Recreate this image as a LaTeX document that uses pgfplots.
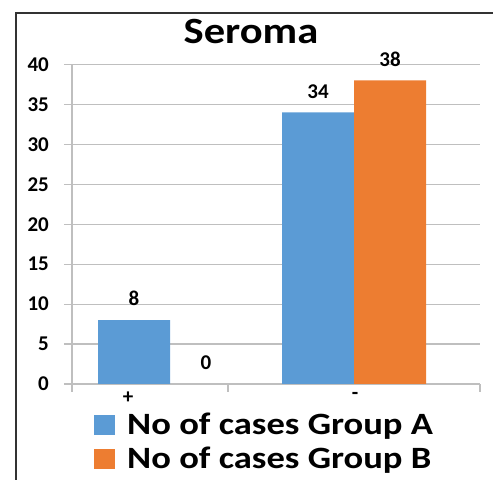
\documentclass[border=0pt]{standalone}
\usepackage{pgfplots}
\pgfplotsset{compat=1.18}
\usepackage{fontspec}
\setmainfont{Carlito}
\newfontfamily\widefont[FakeStretch=1.15]{Carlito}
\newfontfamily\legfont[FakeStretch=1.18]{Carlito}
\definecolor{cA}{HTML}{5B9BD5}
\definecolor{cB}{HTML}{ED7D31}
\definecolor{gridc}{HTML}{BFBFBF}
\begin{document}
\begin{tikzpicture}
\path[use as bounding box] (0,0) rectangle (493bp,480bp);
\draw[line width=1.5bp, black!80] (16bp,0) -- (16bp,467bp) -- (493bp,467bp);
\begin{axis}[
  at={(72bp,96bp)}, anchor=south west,
  scale only axis, width=408bp, height=319.5bp,
  xmin=72, xmax=480, ymin=0, ymax=40,
  ytick={0,5,...,40},
  axis lines=left, axis line style={-, draw=gridc, line width=1.2bp},
  ymajorgrids, grid style={draw=gridc, line width=1.2bp},
  tick align=outside, major tick length=8bp,
  ytick style={draw=gridc, line width=1.2bp},
  /pgf/number format/assume math mode=true,
  yticklabel style={font=\fontsize{21bp}{24bp}\selectfont\bfseries, inner sep=0pt, xshift=-15bp},
  xtick={128,355}, xticklabels={+,-},
  xtick style={draw=none},
  xticklabel style={font=\fontsize{21bp}{24bp}\selectfont\bfseries, inner sep=0pt, yshift=0bp},
  extra x ticks={72,228,480}, extra x tick labels={},
  extra x tick style={xtick style={draw=gridc, line width=1.2bp}},
  ybar=0pt, bar width=72,
  nodes near coords,
  every node near coord/.append style={font=\fontsize{21bp}{24bp}\selectfont\bfseries, inner sep=0pt, anchor=south, yshift=14bp},
  title={Seroma},
  title style={font=\fontsize{37bp}{44bp}\widefont\bfseries, at={(axis description cs:0.4387,1.083)}, anchor=center, inner sep=0pt},
  legend style={at={(axis description cs:0.054,-0.0845)}, anchor=north west, draw=none, fill=none,
    font=\fontsize{31bp}{36bp}\legfont\bfseries, row sep=7bp, inner sep=0pt,
    /tikz/every odd column/.append style={column sep=10bp},
    /tikz/every even column/.append style={column sep=0bp}},
  legend cell align=left,
  legend image code/.code={\fill[#1] (0bp,-10bp) rectangle (21bp,10bp);},
]
\addplot[fill=cA, draw=none, bar shift=-36] coordinates {(170,8) (354,34)};
\addplot[fill=cB, draw=none, bar shift=36] coordinates {(170,0) (354,38)};
\legend{No of cases Group A, No of cases Group B}
\end{axis}
\end{tikzpicture}
\end{document}
